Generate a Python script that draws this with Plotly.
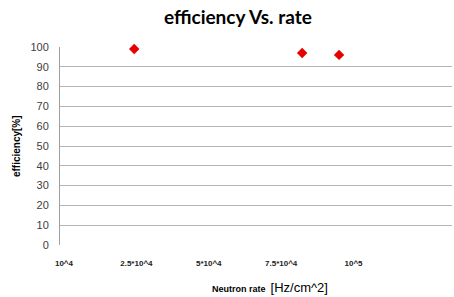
import plotly.graph_objects as go

# data
x_pos = [0.97, 3.29, 3.80]
efficiency = [99, 97, 96]
tick_pos = [0, 1, 2, 3, 4]
tick_labels = ["10^4", "2.5*10^4", "5*10^4", "7.5*10^4", "10^5"]
y_ticks = list(range(0, 101, 10))

fig = go.Figure()
fig.add_trace(go.Scatter(
    x=x_pos, y=efficiency, mode="markers",
    marker=dict(symbol="diamond", size=8, color="#e60000"),
    showlegend=False, cliponaxis=False,
))

fig.update_layout(
    width=454, height=297,
    margin=dict(l=60, r=2, t=47, b=52),
    paper_bgcolor="white", plot_bgcolor="white",
    font=dict(family="Liberation Sans, Arial", color="#404040"),
    title=dict(text="<b>efficiency Vs. rate</b>", x=0.524, xanchor="center",
               y=0.94, yanchor="middle",
               font=dict(family="Lato, Open Sans", size=19, color="#000000")),
    xaxis=dict(range=[-0.055, 5.36], tickmode="array", tickvals=tick_pos,
               ticktext=["<b>%s</b>" % t for t in tick_labels],
               showgrid=False, zeroline=False,
               showline=False, ticks="", ticklabelstandoff=12,
               tickfont=dict(size=8, color="#222222", family="Liberation Sans")),
    yaxis=dict(range=[0, 100], tickmode="array", tickvals=y_ticks,
               showgrid=True, gridcolor="#b5b5b5", gridwidth=1,
               zeroline=False, showline=True, linecolor="#a0a0a0",
               ticks="", ticklabelstandoff=8,
               tickfont=dict(size=11, color="#404040")),
)

fig.add_annotation(
    text="<b>efficiency[%]</b>", textangle=-90, xref="paper", yref="paper",
    x=-0.112, y=0.5, xanchor="center", yanchor="middle", showarrow=False,
    font=dict(size=10, color="#000000", family="Liberation Sans"),
)
fig.add_annotation(
    text="<b>Neutron rate</b>  <span style='font-size:13px'>[Hz/cm^2]</span>",
    xref="paper", yref="paper", x=0.535, y=0, yshift=-42,
    xanchor="center", yanchor="middle", showarrow=False,
    font=dict(size=9, color="#000000", family="Liberation Sans"),
)

fig.write_html("out.html", config={"displayModeBar": False},
               post_script="document.body.style.margin='0';document.body.style.overflow='hidden';")
